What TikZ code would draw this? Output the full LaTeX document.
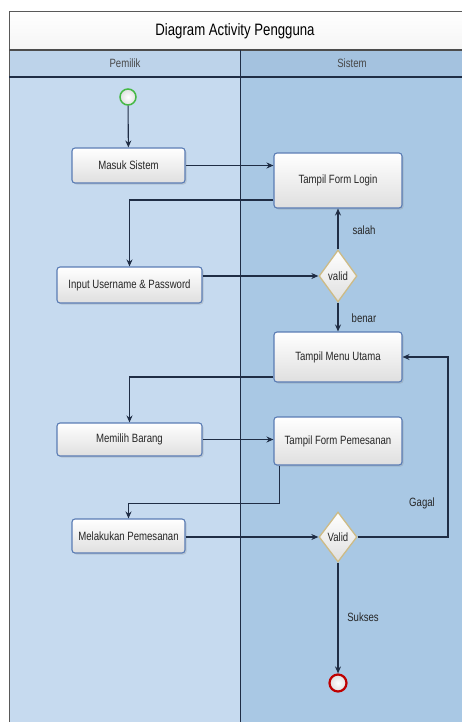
\documentclass[tikz,border=0pt]{standalone}
\usepackage{fontspec}
\setmainfont{Liberation Sans}
\newfontfamily\narrowfont[FakeStretch=0.8]{Liberation Sans}
\usetikzlibrary{shapes.geometric,arrows.meta,shadows}
\definecolor{laneA}{HTML}{C6DAEF}
\definecolor{laneB}{HTML}{A9C8E4}
\definecolor{headA}{HTML}{BDD3EA}
\definecolor{headB}{HTML}{A4C2DF}
\definecolor{boxedge}{HTML}{5A7CB4}
\definecolor{lineC}{HTML}{1F2D45}
\definecolor{diaedge}{HTML}{CDBB86}
\definecolor{txt}{HTML}{262626}
\tikzset{
  act/.style={rectangle, rounded corners=3pt, draw=boxedge, line width=1.1pt,
    top color=white, bottom color=gray!25, text=txt,
    font=\narrowfont\fontsize{12}{14}\selectfont, inner sep=2pt,
    drop shadow={opacity=0.25, shadow xshift=1.5pt, shadow yshift=-1.5pt}},
  dec/.style={diamond, draw=diaedge, line width=1.3pt, top color=white, bottom color=gray!25,
    inner sep=0pt, text=txt, font=\narrowfont\fontsize{12}{14}\selectfont},
  arr/.style={draw=lineC, line width=1.1pt, -{Stealth[length=7pt,width=6pt]}},
  lbl/.style={text=txt, font=\narrowfont\fontsize{12}{14}\selectfont},
  hdr/.style={text=txt!85, font=\narrowfont\fontsize{12}{14}\selectfont}
}
\begin{document}
\begin{tikzpicture}[x=1pt,y=-1pt]
\useasboundingbox (0,0) rectangle (462,722);
\fill[white] (0,0) rectangle (462,722);
% lanes
\fill[laneA] (9,77) rectangle (240,722);
\fill[laneB] (240,77) rectangle (462,722);
\fill[headA] (9,50) rectangle (240,77);
\fill[headB] (240,50) rectangle (462,77);
\shade[top color=white, bottom color=gray!8] (9,11) rectangle (462,50);
% borders
\draw[gray!70!black, line width=0.8pt] (9,722) -- (9,11) -- (462,11);
\draw[gray!60!black, line width=1.2pt] (9,50) -- (462,50);
\draw[lineC, line width=1.3pt] (9,77) -- (462,77);
\draw[lineC, line width=0.7pt] (240,50) -- (240,722);
% titles
\node[font=\narrowfont\fontsize{16.5}{18}\selectfont, text=black] (title) at (235,31) {Diagram Activity Pengguna};
\node[hdr] (hpemilik) at (125,63) {Pemilik};
\node[hdr] (hsistem) at (352,63) {Sistem};
% nodes
\node[circle, minimum size=16pt, inner sep=0pt, draw=green!45!gray, line width=1.5pt,
  inner color=white, outer color=gray!25] (start) at (128,97) {};
\node[act, minimum width=113pt, minimum height=35pt] (masuk) at (128.5,165.5) {Masuk Sistem};
\node[act, minimum width=128pt, minimum height=55pt] (login) at (338,180.5) {Tampil Form Login};
\node[act, minimum width=145pt, minimum height=36pt] (input) at (129.5,285) {Input Username \& Password};
\node[dec, minimum width=38pt, minimum height=52pt] (valid1) at (338,276) {valid};
\node[act, minimum width=128pt, minimum height=50pt] (menu) at (338,357) {Tampil Menu Utama};
\node[act, minimum width=145pt, minimum height=33pt] (memilih) at (129.5,439.5) {Memilih Barang};
\node[act, minimum width=128pt, minimum height=48pt] (form) at (338,441) {Tampil Form Pemesanan};
\node[act, minimum width=113pt, minimum height=34pt] (melakukan) at (128.5,536) {Melakukan Pemesanan};
\node[dec, minimum width=38pt, minimum height=50pt] (valid2) at (338,537) {Valid};
\node[circle, minimum size=17pt, inner sep=0pt, draw=red!75!black, line width=2.2pt,
  inner color=white, outer color=gray!25] (end) at (338,683) {};
\coordinate (gagalc) at (448,357);
% edges
\draw[arr] (start) -- (masuk);
\draw[arr] (masuk) -- (masuk -| login.west);
\draw[arr] ([yshift=-19.5pt]login.west) -| (input.north);
\draw[arr] (input.east |- valid1) -- (valid1.west);
\draw[arr] (valid1.north) -- (login.south);
\draw[arr] (valid1.south) -- (menu.north);
\draw[arr] ([yshift=-20pt]menu.west) -| (memilih.north);
\draw[arr] (memilih.east) -- (memilih.east -| form.west);
\draw[arr] ([xshift=6pt]form.south west) -- ++(0,38) -| (melakukan.north);
\draw[arr] (melakukan.east |- valid2) -- (valid2.west);
\draw[arr] (valid2.east) -| (gagalc) -- (menu.east);
\draw[arr] (valid2.south) -- (end);
% labels
\node[lbl] (lsalah) at (364,230) {salah};
\node[lbl] (lbenar) at (364,318) {benar};
\node[lbl] (lgagal) at (422,503) {Gagal};
\node[lbl] (lsukses) at (363,617) {Sukses};
\end{tikzpicture}
\end{document}
